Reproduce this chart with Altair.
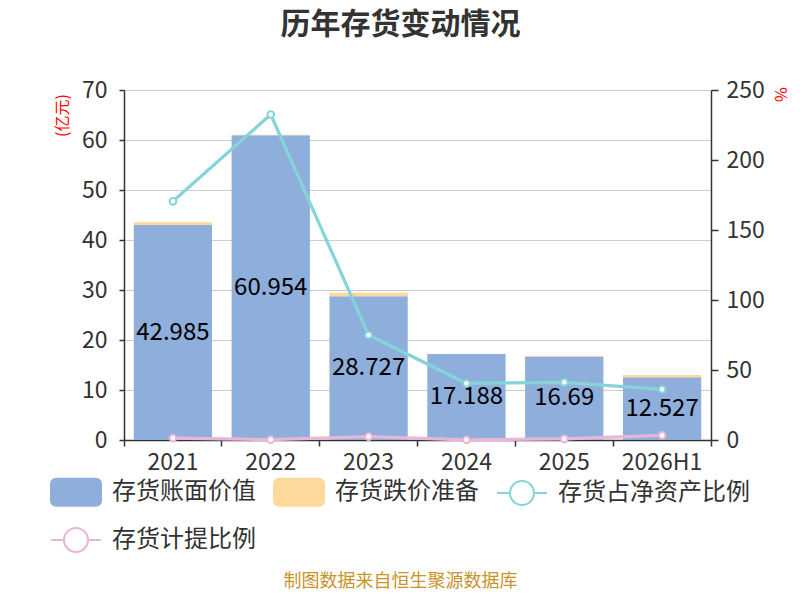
import altair as alt
import pandas as pd

years = ["2021", "2022", "2023", "2024", "2025", "2026H1"]
book_value = [42.985, 60.954, 28.727, 17.188, 16.69, 12.527]
book_labels = ["42.985", "60.954", "28.727", "17.188", "16.69", "12.527"]
impairment = [0.55, 0.12, 0.7, 0.02, 0.15, 0.45]
net_asset_ratio = [170.5, 232.5, 75.0, 40.5, 41.2, 36.2]
provision_ratio = [1.4, 0.2, 2.4, 0.1, 0.8, 3.3]

series_names = ["存货账面价值", "存货跌价准备", "存货占净资产比例", "存货计提比例"]
series_colors = ["#8EAEDB", "#FFD89B", "#85D4D8", "#E9B5D8"]

FONT = "Noto Sans CJK SC"
TXT = "#333333"

bar_rows = []
for i, y in enumerate(years):
    bar_rows.append({"year": y, "series": series_names[0], "value": book_value[i], "ord": 0})
    bar_rows.append({"year": y, "series": series_names[1], "value": impairment[i], "ord": 1})
bar_df = pd.DataFrame(bar_rows)

label_df = pd.DataFrame({"year": years, "value": book_value, "label": book_labels})

line_rows = []
for i, y in enumerate(years):
    line_rows.append({"year": y, "series": series_names[2], "ratio": net_asset_ratio[i]})
    line_rows.append({"year": y, "series": series_names[3], "ratio": provision_ratio[i]})
line_df = pd.DataFrame(line_rows)

legend_df = pd.DataFrame({"series": series_names})

# colour scale for the marks (domain listed in reverse so it does not merge with the legend scales)
color_scale = alt.Scale(domain=series_names[::-1], range=series_colors[::-1])

x_axis = alt.Axis(
    title="制图数据来自恒生聚源数据库", titleColor="#C9932A", titleFontSize=18,
    titleFontWeight="normal", titleFont=FONT, titleX=276, titleY=141,
    titleAlign="center", titleBaseline="middle",
    labelAngle=0, labelFontSize=23, labelColor=TXT, labelFont=FONT, labelPadding=5,
    tickSize=6, tickColor=TXT, tickWidth=1.5, domainColor=TXT, domainWidth=1.5,
    bandPosition=1, tickExtra=True, grid=False,
)
x_scale = alt.Scale(paddingInner=0, paddingOuter=0)

def xenc():
    return alt.X("year:N", sort=years, scale=x_scale, axis=x_axis)

left_axis = alt.Axis(
    values=list(range(0, 80, 10)), title="(亿元)", titleColor="red",
    titleFontSize=16, titleFontWeight="normal", titleFont=FONT,
    titleX=-62, titleY=25, titleAngle=270, titleAlign="center", titleBaseline="middle",
    labelFontSize=23, labelColor=TXT, labelFont=FONT, labelPadding=12,
    tickSize=5, tickColor=TXT, tickWidth=1.5, domainColor=TXT, domainWidth=1.5,
    grid=True, gridColor="#CCCCCC", gridWidth=1,
)
left_scale = alt.Scale(domain=[0, 70])

right_axis = alt.Axis(
    orient="right", values=list(range(0, 300, 50)), title="%", titleColor="red",
    titleFontSize=16, titleFontWeight="normal", titleFont=FONT,
    titleX=68, titleY=4, titleAngle=90, titleAlign="center", titleBaseline="middle",
    labelFontSize=23, labelColor=TXT, labelFont=FONT, labelPadding=8,
    tickSize=7, tickColor=TXT, tickWidth=1.5, domainColor=TXT, domainWidth=1.5,
    grid=False,
)
right_scale = alt.Scale(domain=[0, 250])

bars = alt.Chart(bar_df).mark_bar(width=alt.RelativeBandSize(0.8)).encode(
    x=xenc(),
    y=alt.Y("value:Q", stack="zero", scale=left_scale, axis=left_axis),
    color=alt.Color("series:N", scale=color_scale, legend=None),
    order=alt.Order("ord:Q", sort="ascending"),
)

labels = alt.Chart(label_df).transform_calculate(value="datum.value / 2").mark_text(
    fontSize=24, font=FONT, color="#000000", baseline="middle", align="center"
).encode(
    x=xenc(),
    y=alt.Y("value:Q", scale=left_scale, axis=left_axis),
    text="label:N",
)

lines = alt.Chart(line_df).mark_line(strokeWidth=3.2).encode(
    x=xenc(),
    y=alt.Y("ratio:Q", scale=right_scale, axis=right_axis),
    color=alt.Color("series:N", scale=color_scale, legend=None),
)

points = alt.Chart(line_df).mark_point(filled=False, fill="white", size=45, strokeWidth=2, opacity=1).encode(
    x=xenc(),
    y=alt.Y("ratio:Q", scale=right_scale, axis=right_axis),
    color=alt.Color("series:N", scale=color_scale, legend=None),
)

RECT = ("M-0.8,-0.54 L0.8,-0.54 A0.2,0.2 0 0 1 1,-0.34 L1,0.34 A0.2,0.2 0 0 1 0.8,0.54 "
        "L-0.8,0.54 A0.2,0.2 0 0 1 -1,0.34 L-1,-0.34 A0.2,0.2 0 0 1 -0.8,-0.54 Z")
LINEC = ("M-1,0 L-0.48,0 M0.48,0 L1,0 M0.48,0 A0.48,0.48 0 1 1 -0.48,0 "
         "A0.48,0.48 0 1 1 0.48,0 Z")

leg = alt.Legend(
    title=None, orient="none", legendX=-74, legendY=376, direction="horizontal",
    columns=3, symbolSize=2500, symbolStrokeWidth=2, symbolOpacity=1,
    labelFontSize=24, labelFont=FONT, labelColor=TXT, labelOffset=10,
    columnPadding=14, rowPadding=4, padding=0, labelLimit=300,
)

legend_layer = alt.Chart(legend_df).mark_point(size=0, filled=True).encode(
    shape=alt.Shape("series:N", scale=alt.Scale(domain=series_names, range=[RECT, RECT, LINEC, LINEC]), legend=leg),
    fill=alt.Fill("series:N", scale=alt.Scale(domain=series_names, range=[series_colors[0], series_colors[1], "#FFFFFF", "#FFFFFF"]), legend=leg),
    stroke=alt.Stroke("series:N", scale=alt.Scale(domain=series_names, range=series_colors), legend=leg),
)

left = alt.layer(bars, labels)
right = alt.layer(lines, points)

chart = alt.layer(left, right, legend_layer).resolve_scale(y="independent").properties(
    width=587, height=350,
    autosize=alt.AutoSizeParams(type="none"),
    padding={"left": 116, "top": 82, "right": 81, "bottom": 152},
    title=alt.Title("历年存货变动情况", fontSize=30, font=FONT, fontWeight="bold",
                    color=TXT, anchor="middle", dx=-17, offset=39),
).configure(background="white").configure_view(stroke=None)

chart.save("out.html", embed_options={"renderer": "svg", "actions": False})
